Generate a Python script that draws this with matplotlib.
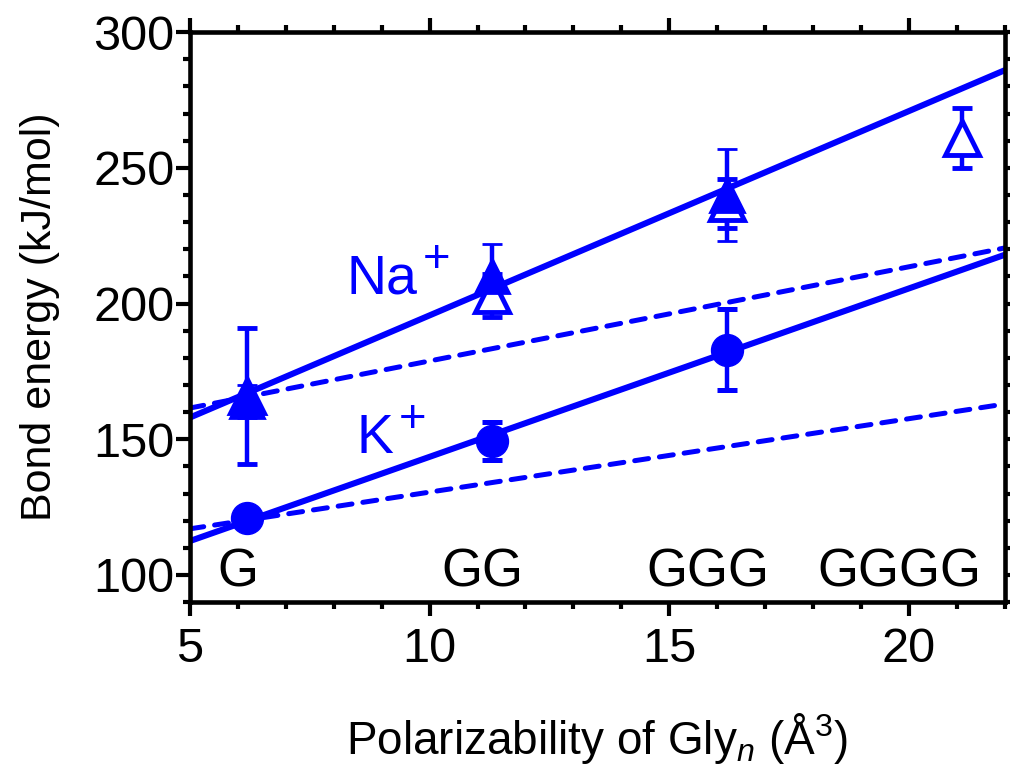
import numpy as np
import matplotlib
matplotlib.use("Agg")
import matplotlib.pyplot as plt

plt.rcParams['font.family'] = ['Liberation Sans', 'DejaVu Sans']
plt.rcParams['mathtext.fontset'] = 'custom'
plt.rcParams['mathtext.rm'] = 'Liberation Sans'
plt.rcParams['mathtext.it'] = 'Liberation Sans:italic'

BLUE = '#0000ff'

# polarizability of Gly_n (A^3)
pol = [6.2, 11.3, 16.2, 21.1]
peptides = ["G", "GG", "GGG", "GGGG"]

# Na+ filled triangles
na_fill_x = [6.2, 11.3, 16.2]
na_fill_y = [164, 210, 240]
na_fill_err = [6, 12, 17]

# Na+ open triangles
na_open_x = [6.2, 11.3, 16.2, 21.1]
na_open_y = [166, 203, 237, 261]
na_open_err = [25, 8, 9, 11]

# K+ filled circles
k_x = [6.2, 11.3, 16.2]
k_y = [121, 149.5, 183]
k_err = [2, 7, 15]

# fit lines (end points at x = 5 and 22)
line_x = [5, 22]
na_solid = [158, 286]
na_dash = [161.5, 220.5]
k_solid = [112.5, 218]
k_dash = [117, 163]

fig = plt.figure(figsize=(10.1, 7.84), dpi=100)
ax = fig.add_axes([0.188, 0.232, 0.807, 0.727])

lw = 4.4
ax.plot(line_x, na_solid, color=BLUE, lw=lw, solid_capstyle='butt')
ax.plot(line_x, k_solid, color=BLUE, lw=lw, solid_capstyle='butt')
ax.plot(line_x, na_dash, color=BLUE, lw=3.6, dashes=(2.8, 2.2), dash_capstyle='round')
ax.plot(line_x, k_dash, color=BLUE, lw=3.6, dashes=(2.8, 2.2), dash_capstyle='round')

ekw = dict(color=BLUE, ecolor=BLUE, elinewidth=3.2, capsize=7, capthick=3.6, ls='none')
ax.errorbar(na_open_x, na_open_y, yerr=na_open_err, marker='^', ms=24,
            mfc='white', mec=BLUE, mew=3.5, **ekw)
ax.errorbar(na_fill_x, na_fill_y, yerr=na_fill_err, marker='^', ms=24,
            mfc=BLUE, mec=BLUE, mew=2, **ekw)
ax.errorbar(k_x, k_y, yerr=k_err, marker='o', ms=23, mfc=BLUE, mec=BLUE, **ekw)

# peptide labels along the bottom
for x, lab in zip([6.0, 11.1, 15.8, 19.8], peptides):
    ax.text(x, 101, lab, ha='center', va='center', fontsize=38)

# ion labels
ax.text(9.0, 209, "Na", color=BLUE, ha='center', va='center', fontsize=40)
ax.text(10.15, 216, "+", color=BLUE, ha='center', va='center', fontsize=34)
ax.text(8.85, 150, "K", color=BLUE, ha='center', va='center', fontsize=40)
ax.text(9.65, 157, "+", color=BLUE, ha='center', va='center', fontsize=34)

ax.set_xlim(5, 22)
ax.set_ylim(90, 300)
ax.set_xticks([5, 10, 15, 20])
ax.set_yticks([100, 150, 200, 250, 300])
ax.set_xticks(np.arange(5, 23, 1), minor=True)
ax.set_yticks(np.arange(90, 301, 10), minor=True)
ax.tick_params(which='both', direction='out', top=True, right=True, width=3, labelsize=35)
ax.tick_params(which='major', length=10)
ax.tick_params(which='minor', length=5)
ax.tick_params(axis='y', pad=1)
ax.tick_params(axis='x', pad=8)
for s in ax.spines.values():
    s.set_linewidth(3.3)

ax.set_xlabel("Polarizability of Gly$_{\\mathit{n}}$ (Å$^3$)", fontsize=33, labelpad=28)
ax.set_ylabel("Bond energy (kJ/mol)", fontsize=31, labelpad=24)

fig.savefig("out.png", dpi=100)
